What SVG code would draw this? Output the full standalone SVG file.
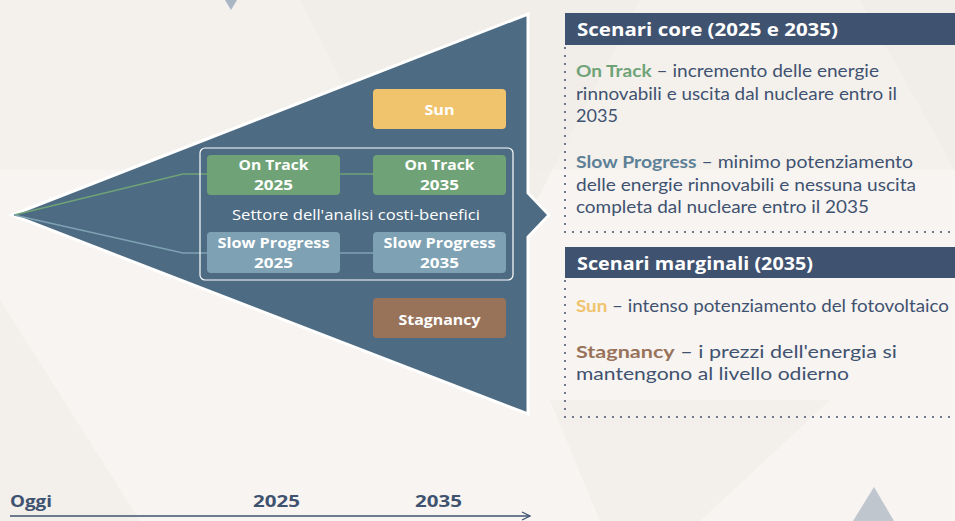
<svg xmlns="http://www.w3.org/2000/svg" width="955" height="521" viewBox="0 0 955 521">
<defs>
<style>
.bx{stroke:none}
.bt{font-family:"Open Sans","Noto Sans",sans-serif;font-weight:700;font-size:15px;fill:#ffffff;text-anchor:middle}
.body{font-family:Lato,"Open Sans",sans-serif;font-size:17px;fill:#3f5270}
.hd{font-family:"Open Sans","Noto Sans",sans-serif;font-weight:700;font-size:17px;fill:#ffffff}
.lab{font-weight:700}
.tl{font-family:"Open Sans","Noto Sans",sans-serif;font-weight:700;font-size:16px;fill:#3f5270}
.dot{stroke:#3f5270;stroke-width:2;stroke-linecap:round;stroke-dasharray:0 8;fill:none}
</style>
<marker id="arr" viewBox="0 0 10 10" refX="9" refY="5" markerWidth="10" markerHeight="10" markerUnits="userSpaceOnUse" orient="auto">
<path d="M1,1 L9,5 L1,9" fill="none" stroke="#3f5270" stroke-width="1.2"/>
</marker>
</defs>
<g id="background">
<rect x="0" y="0" width="955" height="521" fill="#f4f1ed"/>
<rect x="0" y="170" width="955" height="351" fill="#f7f4f1"/>
<polygon points="300,0 640,0 470,330" fill="#efebe6" opacity="0.6"/>
<polygon points="0,300 140,521 0,521" fill="#f1ede8" opacity="0.7"/>
<polygon points="550,400 830,400 700,521 600,521" fill="#f1ede8" opacity="0.7"/>
<polygon points="860,0 955,0 955,170" fill="#efebe6" opacity="0.6"/>
<polygon points="225,0 237,0 231,10" fill="#a9b6c4"/>
<polygon points="874,487 894,521 853,521" fill="#bfc6ce"/>
</g>
<g id="funnel">
<polygon points="12,215 528,14 528,193 549,215 528,237 528,414" fill="#4d6b82" stroke="#ffffff" stroke-width="3" stroke-linejoin="miter"/>
</g>
<g id="connectors" fill="none" stroke-width="1.6">
<polyline points="14,215 183,174 207,174" stroke="#6fa377"/>
<line x1="340" y1="174" x2="373" y2="174" stroke="#6fa377"/>
<polyline points="14,215 183,253 207,253" stroke="#7ea2b3"/>
<line x1="340" y1="253" x2="373" y2="253" stroke="#7ea2b3"/>
</g>
<g id="cba-sector">
<rect x="200" y="148" width="313" height="132" rx="5" fill="none" stroke="#ffffff" stroke-width="1.2"/>
<text x="356" y="220" font-family="'Open Sans','Noto Sans',sans-serif" font-size="14.5" fill="#ffffff" text-anchor="middle" textLength="248" lengthAdjust="spacingAndGlyphs">Settore dell'analisi costi-benefici</text>
</g>
<g id="sun">
<rect class="bx" x="373" y="89" width="133" height="40" rx="4" fill="#f0c36d"/>
<text class="bt" x="439.5" y="115" textLength="30" lengthAdjust="spacingAndGlyphs">Sun</text>
</g>
<g id="ontrack2025">
<rect class="bx" x="207" y="155" width="133" height="40" rx="4" fill="#6fa377"/>
<text class="bt" x="273.5" y="170" textLength="70" lengthAdjust="spacingAndGlyphs">On Track</text>
<text class="bt" x="273.5" y="190" textLength="39" lengthAdjust="spacingAndGlyphs">2025</text>
</g>
<g id="ontrack2035">
<rect class="bx" x="373" y="155" width="133" height="40" rx="4" fill="#6fa377"/>
<text class="bt" x="439.5" y="170" textLength="70" lengthAdjust="spacingAndGlyphs">On Track</text>
<text class="bt" x="439.5" y="190" textLength="39" lengthAdjust="spacingAndGlyphs">2035</text>
</g>
<g id="slow2025">
<rect class="bx" x="207" y="232" width="133" height="41" rx="4" fill="#7ea2b3"/>
<text class="bt" x="273.5" y="248" textLength="112" lengthAdjust="spacingAndGlyphs">Slow Progress</text>
<text class="bt" x="273.5" y="268" textLength="39" lengthAdjust="spacingAndGlyphs">2025</text>
</g>
<g id="slow2035">
<rect class="bx" x="373" y="232" width="133" height="41" rx="4" fill="#7ea2b3"/>
<text class="bt" x="439.5" y="248" textLength="112" lengthAdjust="spacingAndGlyphs">Slow Progress</text>
<text class="bt" x="439.5" y="268" textLength="39" lengthAdjust="spacingAndGlyphs">2035</text>
</g>
<g id="stagnancy">
<rect class="bx" x="373" y="298" width="133" height="40" rx="4" fill="#98735a"/>
<text class="bt" x="439.5" y="325" textLength="82" lengthAdjust="spacingAndGlyphs">Stagnancy</text>
</g>
<g id="core-panel">
<rect x="565" y="13" width="390" height="32" fill="#3f5270"/>
<text class="hd" x="577" y="36" textLength="261" lengthAdjust="spacingAndGlyphs">Scenari core (2025 e 2035)</text>
<path class="dot" d="M565,48 V232 H955"/>
<text class="body" x="576" y="77" textLength="303" lengthAdjust="spacingAndGlyphs"><tspan class="lab" fill="#6fa377">On Track</tspan> – incremento delle energie</text>
<text class="body" x="576" y="100" textLength="321" lengthAdjust="spacingAndGlyphs">rinnovabili e uscita dal nucleare entro il</text>
<text class="body" x="576" y="122" textLength="42" lengthAdjust="spacingAndGlyphs">2035</text>
<text class="body" x="576" y="168" textLength="337" lengthAdjust="spacingAndGlyphs"><tspan class="lab" fill="#5d8096">Slow Progress</tspan> – minimo potenziamento</text>
<text class="body" x="576" y="191" textLength="340" lengthAdjust="spacingAndGlyphs">delle energie rinnovabili e nessuna uscita</text>
<text class="body" x="576" y="213" textLength="293" lengthAdjust="spacingAndGlyphs">completa dal nucleare entro il 2035</text>
</g>
<g id="marginal-panel">
<rect x="565" y="247" width="390" height="31" fill="#3f5270"/>
<text class="hd" x="577" y="270" textLength="236" lengthAdjust="spacingAndGlyphs">Scenari marginali (2035)</text>
<path class="dot" d="M565,281 V417 H955"/>
<text class="body" x="576" y="312" textLength="373" lengthAdjust="spacingAndGlyphs"><tspan class="lab" fill="#f0c36d">Sun</tspan> – intenso potenziamento del fotovoltaico</text>
<text class="body" x="576" y="358" textLength="321" lengthAdjust="spacingAndGlyphs"><tspan class="lab" fill="#98735a">Stagnancy</tspan> – i prezzi dell'energia si</text>
<text class="body" x="576" y="380" textLength="273" lengthAdjust="spacingAndGlyphs">mantengono al livello odierno</text>
</g>
<g id="timeline">
<line x1="10" y1="516" x2="530" y2="516" stroke="#3f5270" stroke-width="1.5" marker-end="url(#arr)"/>
<text class="tl" x="10" y="507" textLength="42" lengthAdjust="spacingAndGlyphs">Oggi</text>
<text class="tl" x="253" y="507" textLength="47" lengthAdjust="spacingAndGlyphs">2025</text>
<text class="tl" x="415" y="507" textLength="47" lengthAdjust="spacingAndGlyphs">2035</text>
</g>
</svg>
